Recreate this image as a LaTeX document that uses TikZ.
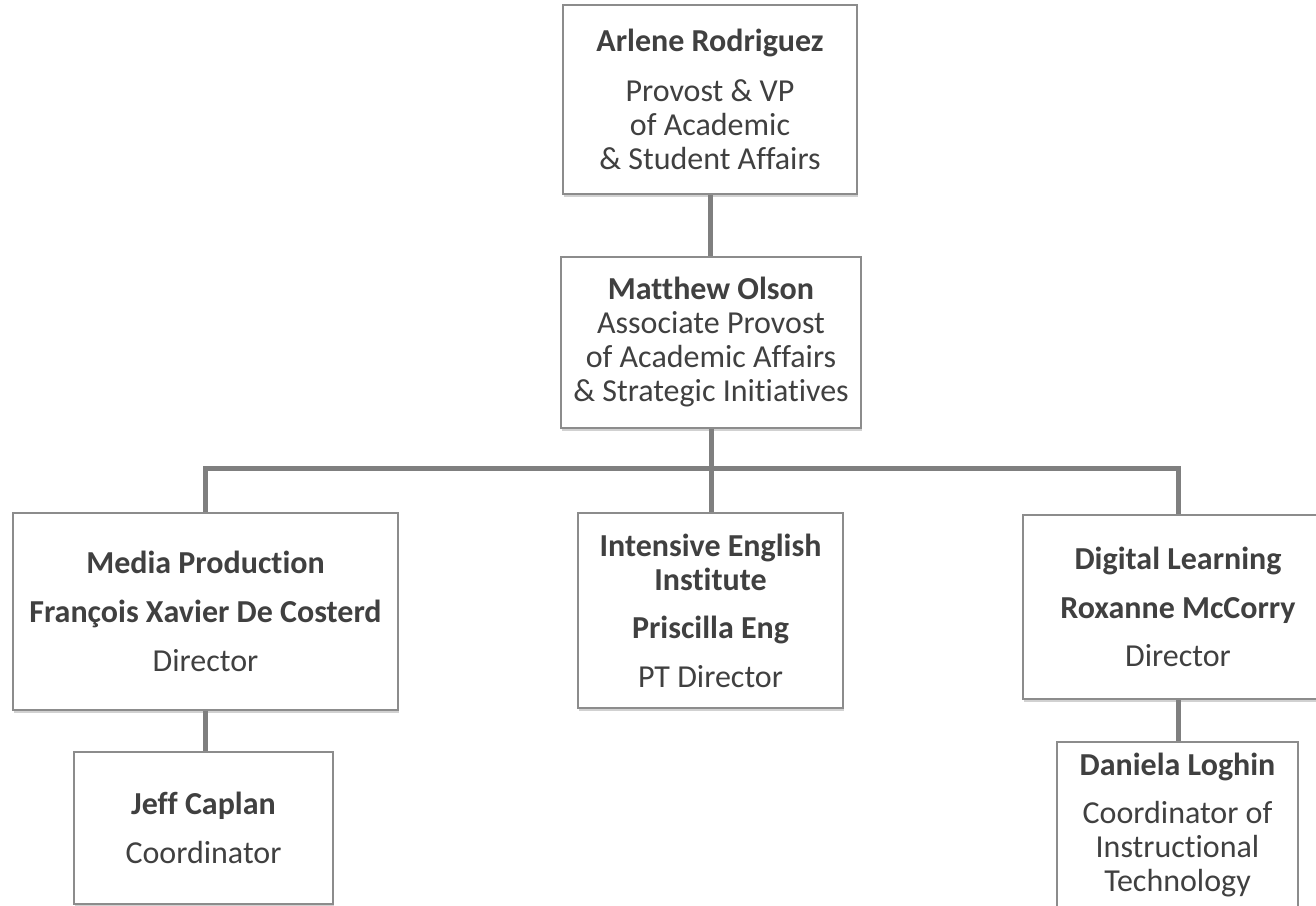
\documentclass[tikz,border=0pt]{standalone}
\usepackage{fontspec}
\setmainfont{Carlito}[Ligatures=NoCommon]
\usetikzlibrary{shadows}
\definecolor{txt}{HTML}{404040}
\definecolor{bord}{HTML}{8C8C8C}
\definecolor{conncol}{HTML}{7F7F7F}
\begin{document}
\begin{tikzpicture}[x=1pt,y=1pt,
  box/.style={draw=bord, line width=1.2pt, fill=white, text=txt, align=center,
    inner sep=2pt, font=\fontsize{32}{34}\selectfont,
    drop shadow={shadow xshift=1pt, shadow yshift=-2.5pt, opacity=0.3, fill=black!60}},
  conn/.style={draw=conncol, line width=5pt}]
\useasboundingbox (0,0) rectangle (1316,-905);

\node[box, minimum width=294pt, minimum height=189pt] (arlene) at (710,-99.5)
  {\textbf{Arlene Rodriguez}\\[16pt] Provost \& VP\\ of Academic\\ \& Student Affairs};
\node[box, minimum width=300pt, minimum height=171pt] (matthew) at (711,-342.5)
  {\textbf{Matthew Olson}\\ Associate Provost\\ of Academic Affairs\\ \& Strategic Initiatives};
\node[box, minimum width=385pt, minimum height=197pt] (media) at (205.5,-611.5)
  {\textbf{Media Production}\\[15pt] \textbf{François Xavier De Costerd}\\[15pt] Director};
\node[box, minimum width=265pt, minimum height=195pt] (iei) at (710.5,-610.5)
  {\textbf{Intensive English}\\ \textbf{Institute}\\[14pt] \textbf{Priscilla Eng}\\[15pt] PT Director};
\node[box, minimum width=310pt, minimum height=184pt] (digital) at (1178,-607)
  {\textbf{Digital Learning}\\[15pt] \textbf{Roxanne McCorry}\\[14pt] Director};
\node[box, minimum width=259pt, minimum height=152pt] (jeff) at (203.5,-828)
  {\textbf{Jeff Caplan}\\[15pt] Coordinator};
\node[box, minimum width=241pt, minimum height=166pt] (daniela) at (1177.5,-825)
  {\textbf{Daniela Loghin}\\[14pt] Coordinator of\\ Instructional\\ Technology};

\coordinate (busy) at (0,-468);
\draw[conn] (arlene.south) -- (arlene.south |- matthew.north);
\draw[conn] (matthew.south) -- (matthew.south |- iei.north);
\draw[conn] (media.north) -- (media.north |- busy) -- (digital.north |- busy) -- (digital.north);
\draw[conn] (media.south) -- (media.south |- jeff.north);
\draw[conn] (digital.south) -- (digital.south |- daniela.north);
\end{tikzpicture}
\end{document}
